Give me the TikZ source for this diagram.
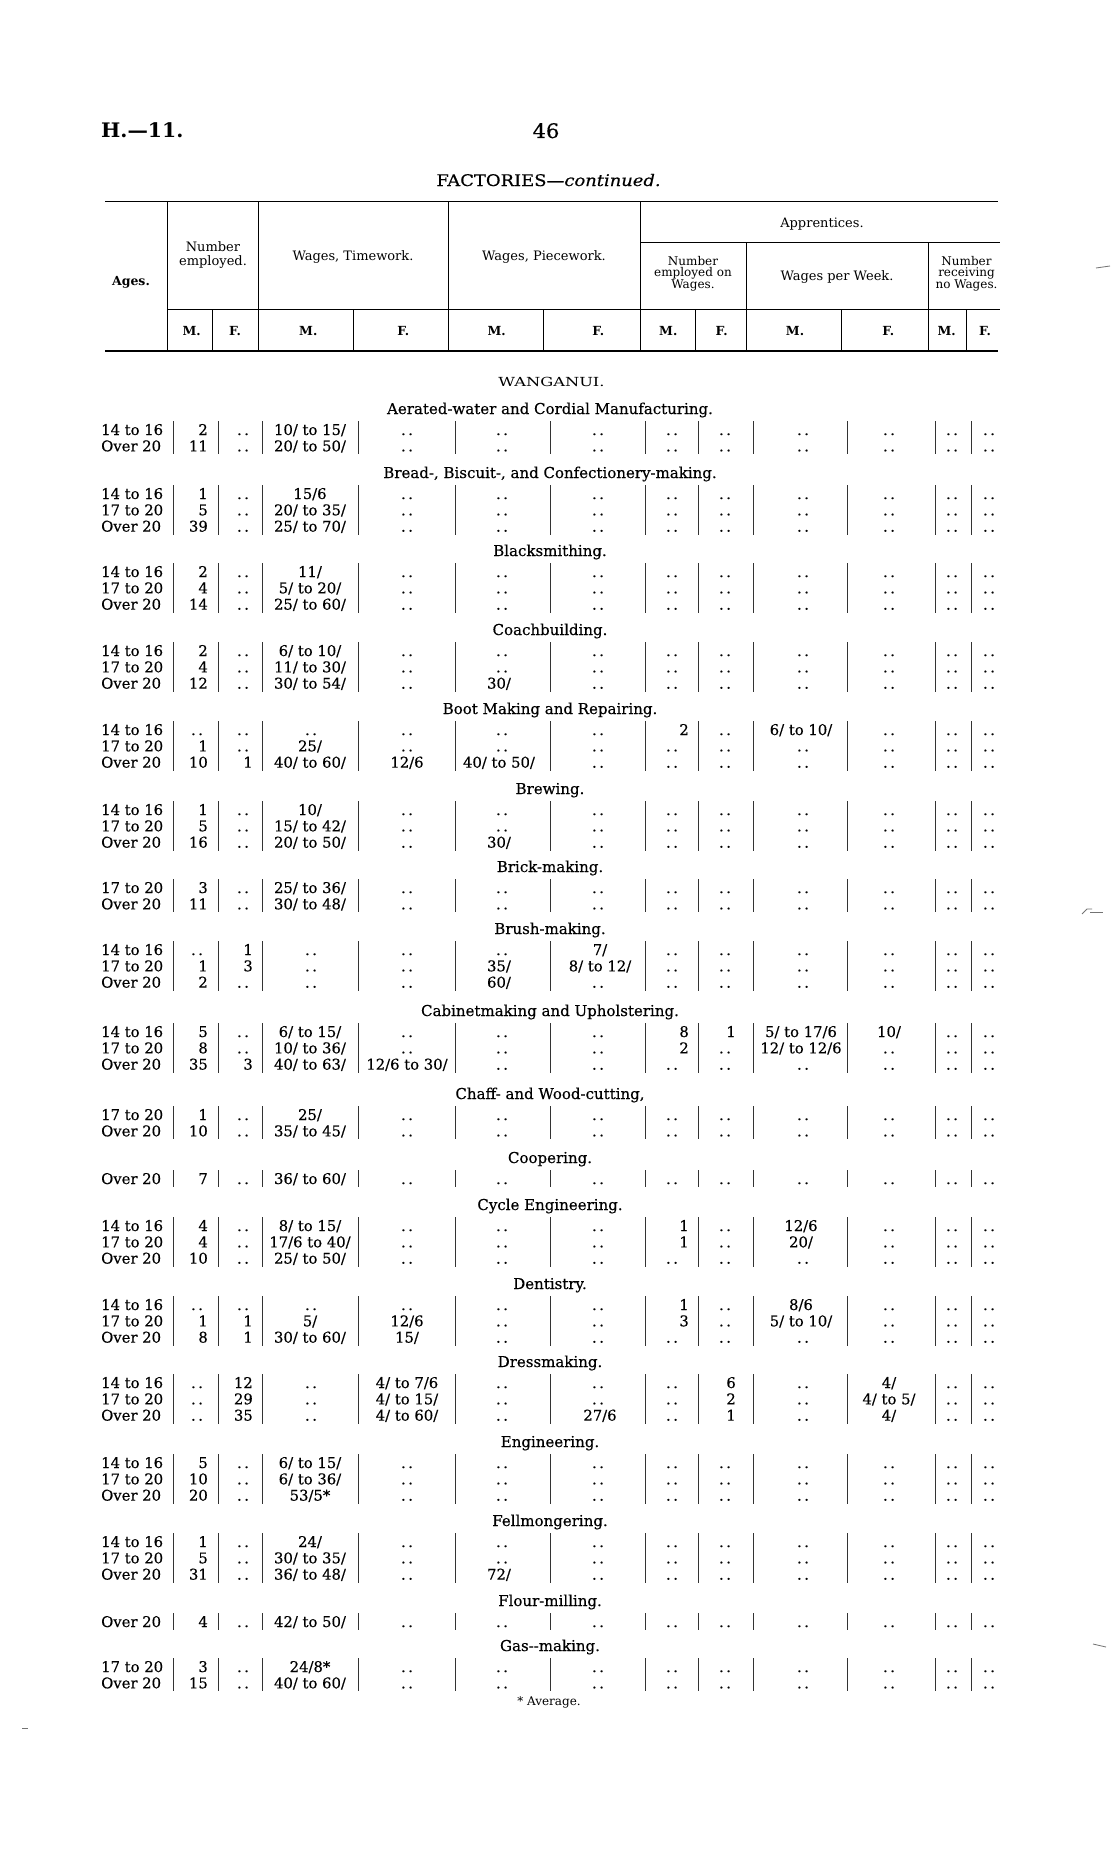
\documentclass[tikz,border=0pt]{standalone}
\usepackage{fontspec}
\setmainfont{DejaVu Serif}
\newfontfamily\bodyfont{DejaVu Serif}[FakeBold=0.35]
\usepackage{ifthen}
\usepackage{graphicx}
\newcommand\dd{.\hspace{2.5pt}.}
\newcommand\xs[2]{\scalebox{#1}[1]{#2}}
\newcommand\setcol[1]{\ifcase#1\or
\def\cx{101}\def\cdx{130}\def\can{base west}\or
\def\cx{208}\def\cdx{197}\def\can{base east}\or
\def\cx{253}\def\cdx{243}\def\can{base east}\or
\def\cx{310}\def\cdx{311}\def\can{base}\or
\def\cx{407}\def\cdx{407}\def\can{base}\or
\def\cx{499}\def\cdx{502}\def\can{base}\or
\def\cx{600}\def\cdx{598}\def\can{base}\or
\def\cx{689}\def\cdx{672}\def\can{base east}\or
\def\cx{736}\def\cdx{725}\def\can{base east}\or
\def\cx{801}\def\cdx{803}\def\can{base}\or
\def\cx{889}\def\cdx{889}\def\can{base}\or
\def\cx{952}\def\cdx{952}\def\can{base}\or
\def\cx{989}\def\cdx{989}\def\can{base}\fi}
% section: #1 id, #2 heading centre y, #3 number of rows, #4 heading text
\newcommand\Sec[4]{%
  \def\curH{#2}%
  \node[hd,anchor=base] (s#1) at (550,#2+5) {#4};
  \pgfmathsetmacro\ytop{#2+21-9}%
  \pgfmathsetmacro\ybot{#2+21+16.3*(#3-1)+8}%
  \foreach \xx in {173,218.5,262,358,455,550,645,698,753,847,935,971}
    {\draw[vrule] (\xx,\ytop) -- (\xx,\ybot);}
}
% row: #1 id, #2 row index in section, #3 list of 13 cells (- = dots)
\newcommand\Row[3]{%
  \pgfmathsetmacro\yy{\curH+21+16.3*(#2-1)+5}%
  \foreach \v [count=\i] in {#3} {%
    \setcol{\i}%
    \ifthenelse{\equal{\v}{-}}%
      {\node[cell,anchor=base] (c#1-\i) at (\cdx,\yy) {\dd};}%
      {\node[cell,anchor=\can] (c#1-\i) at (\cx,\yy) {\v};}%
  }%
}
\begin{document}
\begin{tikzpicture}[x=1pt,y=-1pt,
  cell/.style={inner sep=0pt,font=\bodyfont\fontsize{14.8}{16}\selectfont},
  hd/.style={inner sep=0pt,font=\bodyfont\fontsize{15}{16}\selectfont},
  th/.style={inner sep=0pt,font=\fontsize{13}{13}\selectfont},
  th3/.style={inner sep=0pt,font=\fontsize{12}{12}\selectfont},
  thb/.style={inner sep=0pt,font=\bfseries\fontsize{12.5}{13}\selectfont},
  vrule/.style={line width=0.9pt,black!80},
  hrule/.style={line width=1.6pt},
  srule/.style={line width=1pt},
  noise/.style={line width=0.8pt,black!55}]
\useasboundingbox[fill=white] (0,0) rectangle (1114,1873);

% page head
\node[inner sep=0pt,anchor=base west,font=\bfseries\fontsize{20}{20}\selectfont] (pg) at (101,138) {\xs{1.02}{H.—11.}};
\node[inner sep=0pt,anchor=base,font=\bodyfont\fontsize{20}{20}\selectfont] (num) at (546,138) {\xs{1.05}{46}};
\node[inner sep=0pt,anchor=base,font=\bodyfont\fontsize{16}{16}\selectfont] (title) at (548.5,186) {\xs{1.12}{FACTORIES—\textit{continued.}}};

% header rules
\draw[hrule] (105,201.5) -- (998,201.5);
\draw[srule] (640,242.5) -- (1000,242.5);
\draw[srule] (168,309) -- (1000,309);
\draw[hrule] (105,351) -- (998,351);
\foreach \xx in {167,258.3,448.3,640} {\draw[srule] (\xx,201.5) -- (\xx,351);}
\foreach \xx in {746.7,928.3} {\draw[srule] (\xx,242.5) -- (\xx,351);}
\foreach \xx in {212.3,353.3,543.3,695,841.7,966} {\draw[srule] (\xx,309) -- (\xx,351);}

% header texts
\node[thb,anchor=base] (hAges) at (131,285) {Ages.};
\node[th,anchor=base] (hN1) at (213,251) {Number};
\node[th,anchor=base] (hN2) at (213,265) {employed.};
\node[th,anchor=base] (hTW) at (353,260) {Wages, Timework.};
\node[th,anchor=base] (hPW) at (544,260) {Wages, Piecework.};
\node[th,anchor=base] (hApp) at (822,227.5) {Apprentices.};
\node[th3,anchor=base] (hAN1) at (693,265) {Number};
\node[th3,anchor=base] (hAN2) at (693,276.5) {employed on};
\node[th3,anchor=base] (hAN3) at (693,288) {Wages.};
\node[th,anchor=base] (hWW) at (837,280) {Wages per Week.};
\node[th3,anchor=base] (hNR1) at (966.5,265) {Number};
\node[th3,anchor=base] (hNR2) at (966.5,276.5) {receiving};
\node[th3,anchor=base] (hNR3) at (966.5,288) {no Wages.};
\foreach \xx/\tt [count=\k] in {191.7/M.,235/F.,308.3/M.,403.3/F.,496.7/M.,598.3/F.,668.3/M.,721.7/F.,795/M.,888.3/F.,946.7/M.,985/F.}
  {\node[thb,anchor=base] (hmf\k) at (\xx,335) {\tt};}

% body
\node[inner sep=0pt,anchor=base,font=\fontsize{12.5}{13}\selectfont] (town) at (551.5,386) {\xs{1.3}{WANGANUI.}};

\Sec{1}{409}{2}{Aerated-water and Cordial Manufacturing.}
\Row{a1}{1}{14 to 16,2,-,10/ to 15/,-,-,-,-,-,-,-,-,-}
\Row{a2}{2}{Over 20,11,-,20/ to 50/,-,-,-,-,-,-,-,-,-}

\Sec{2}{473}{3}{Bread-, Biscuit-, and Confectionery-making.}
\Row{b1}{1}{14 to 16,1,-,15/6,-,-,-,-,-,-,-,-,-}
\Row{b2}{2}{17 to 20,5,-,20/ to 35/,-,-,-,-,-,-,-,-,-}
\Row{b3}{3}{Over 20,39,-,25/ to 70/,-,-,-,-,-,-,-,-,-}

\Sec{3}{551}{3}{Blacksmithing.}
\Row{c1}{1}{14 to 16,2,-,11/,-,-,-,-,-,-,-,-,-}
\Row{c2}{2}{17 to 20,4,-,5/ to 20/,-,-,-,-,-,-,-,-,-}
\Row{c3}{3}{Over 20,14,-,25/ to 60/,-,-,-,-,-,-,-,-,-}

\Sec{4}{630}{3}{Coachbuilding.}
\Row{d1}{1}{14 to 16,2,-,6/ to 10/,-,-,-,-,-,-,-,-,-}
\Row{d2}{2}{17 to 20,4,-,11/ to 30/,-,-,-,-,-,-,-,-,-}
\Row{d3}{3}{Over 20,12,-,30/ to 54/,-,30/,-,-,-,-,-,-,-}

\Sec{5}{709}{3}{Boot Making and Repairing.}
\Row{e1}{1}{14 to 16,-,-,-,-,-,-,2,-,6/ to 10/,-,-,-}
\Row{e2}{2}{17 to 20,1,-,25/,-,-,-,-,-,-,-,-,-}
\Row{e3}{3}{Over 20,10,1,40/ to 60/,12/6,40/ to 50/,-,-,-,-,-,-,-}

\Sec{6}{789}{3}{Brewing.}
\Row{f1}{1}{14 to 16,1,-,10/,-,-,-,-,-,-,-,-,-}
\Row{f2}{2}{17 to 20,5,-,15/ to 42/,-,-,-,-,-,-,-,-,-}
\Row{f3}{3}{Over 20,16,-,20/ to 50/,-,30/,-,-,-,-,-,-,-}

\Sec{7}{867}{2}{Brick-making.}
\Row{g1}{1}{17 to 20,3,-,25/ to 36/,-,-,-,-,-,-,-,-,-}
\Row{g2}{2}{Over 20,11,-,30/ to 48/,-,-,-,-,-,-,-,-,-}

\Sec{8}{929}{3}{Brush-making.}
\Row{h1}{1}{14 to 16,-,1,-,-,-,7/,-,-,-,-,-,-}
\Row{h2}{2}{17 to 20,1,3,-,-,35/,8/ to 12/,-,-,-,-,-,-}
\Row{h3}{3}{Over 20,2,-,-,-,60/,-,-,-,-,-,-,-}

\Sec{9}{1011}{3}{Cabinetmaking and Upholstering.}
\Row{i1}{1}{14 to 16,5,-,6/ to 15/,-,-,-,8,1,5/ to 17/6,10/,-,-}
\Row{i2}{2}{17 to 20,8,-,10/ to 36/,-,-,-,2,-,12/ to 12/6,-,-,-}
\Row{i3}{3}{Over 20,35,3,40/ to 63/,12/6 to 30/,-,-,-,-,-,-,-,-}

\Sec{10}{1094}{2}{Chaff- and Wood-cutting,}
\Row{j1}{1}{17 to 20,1,-,25/,-,-,-,-,-,-,-,-,-}
\Row{j2}{2}{Over 20,10,-,35/ to 45/,-,-,-,-,-,-,-,-,-}

\Sec{11}{1158}{1}{Coopering.}
\Row{k1}{1}{Over 20,7,-,36/ to 60/,-,-,-,-,-,-,-,-,-}

\Sec{12}{1205}{3}{Cycle Engineering.}
\Row{l1}{1}{14 to 16,4,-,8/ to 15/,-,-,-,1,-,12/6,-,-,-}
\Row{l2}{2}{17 to 20,4,-,17/6 to 40/,-,-,-,1,-,20/,-,-,-}
\Row{l3}{3}{Over 20,10,-,25/ to 50/,-,-,-,-,-,-,-,-,-}

\Sec{13}{1284}{3}{Dentistry.}
\Row{m1}{1}{14 to 16,-,-,-,-,-,-,1,-,8/6,-,-,-}
\Row{m2}{2}{17 to 20,1,1,5/,12/6,-,-,3,-,5/ to 10/,-,-,-}
\Row{m3}{3}{Over 20,8,1,30/ to 60/,15/,-,-,-,-,-,-,-,-}

\Sec{14}{1362}{3}{Dressmaking.}
\Row{n1}{1}{14 to 16,-,12,-,4/ to 7/6,-,-,-,6,-,4/,-,-}
\Row{n2}{2}{17 to 20,-,29,-,4/ to 15/,-,-,-,2,-,4/ to 5/,-,-}
\Row{n3}{3}{Over 20,-,35,-,4/ to 60/,-,27/6,-,1,-,4/,-,-}

\Sec{15}{1442}{3}{Engineering.}
\Row{o1}{1}{14 to 16,5,-,6/ to 15/,-,-,-,-,-,-,-,-,-}
\Row{o2}{2}{17 to 20,10,-,6/ to 36/,-,-,-,-,-,-,-,-,-}
\Row{o3}{3}{Over 20,20,-,53/5*,-,-,-,-,-,-,-,-,-}

\Sec{16}{1521}{3}{Fellmongering.}
\Row{p1}{1}{14 to 16,1,-,24/,-,-,-,-,-,-,-,-,-}
\Row{p2}{2}{17 to 20,5,-,30/ to 35/,-,-,-,-,-,-,-,-,-}
\Row{p3}{3}{Over 20,31,-,36/ to 48/,-,72/,-,-,-,-,-,-,-}

\Sec{17}{1601}{1}{Flour-milling.}
\Row{q1}{1}{Over 20,4,-,42/ to 50/,-,-,-,-,-,-,-,-,-}

\Sec{18}{1646}{2}{Gas-{}-making.}
\Row{r1}{1}{17 to 20,3,-,24/8*,-,-,-,-,-,-,-,-,-}
\Row{r2}{2}{Over 20,15,-,40/ to 60/,-,-,-,-,-,-,-,-,-}

\node[inner sep=0pt,anchor=base,font=\fontsize{12}{12}\selectfont] (foot) at (549,1705) {* Average.};

% stray scan marks
\draw[noise] (1096,268) -- (1110,266);
\draw[noise] (1082,914) -- (1087,909) -- (1092,909);
\draw[noise] (1090,912) -- (1103,912);
\draw[noise] (1093,1644) -- (1106,1647);
\draw[noise] (22,1728) -- (28,1728);
\end{tikzpicture}
\end{document}
